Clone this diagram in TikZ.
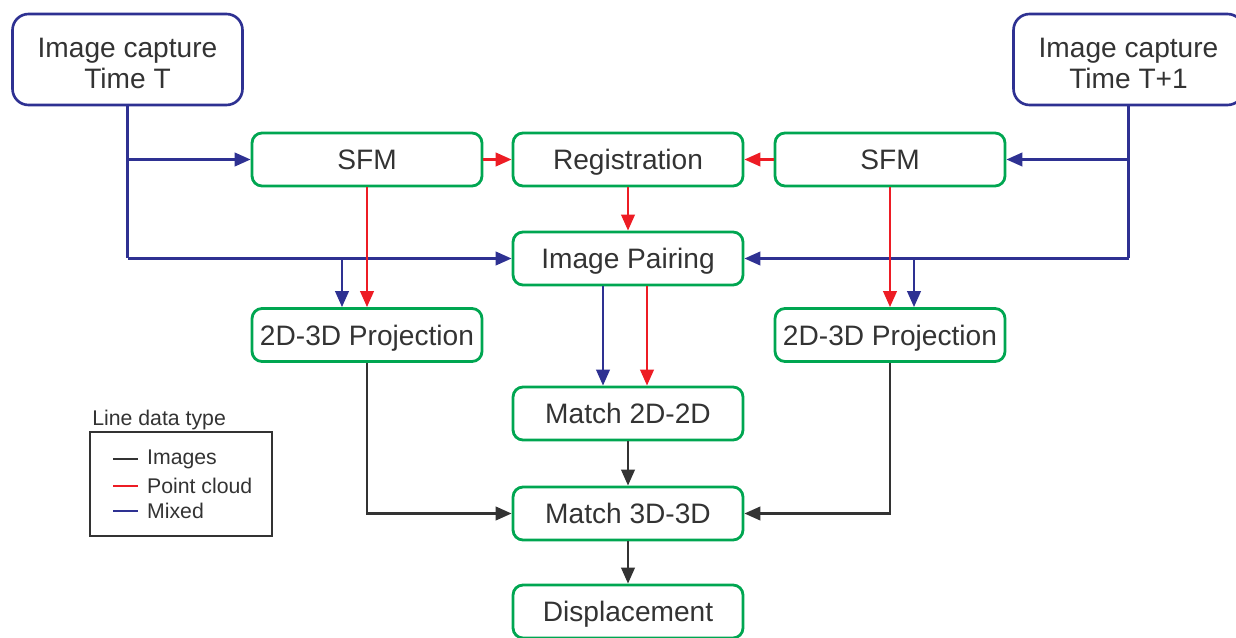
\documentclass[tikz,border=0pt]{standalone}
\usepackage{fontspec}
\setmainfont{Liberation Sans}
\usetikzlibrary{arrows.meta,calc}

\definecolor{boxgreen}{HTML}{00A651}
\definecolor{capblue}{HTML}{2E3192}
\definecolor{cloudred}{HTML}{ED1C24}
\definecolor{inkgray}{HTML}{333333}

\tikzset{
  stagebox/.style={draw=boxgreen, line width=1.6pt, rounded corners=0.2cm,
    minimum width=4.6cm, minimum height=1.06cm, inner sep=0pt,
    text height=11.5pt, text depth=0pt,
    text=inkgray, font=\fontsize{16}{18.1}\selectfont},
  capturebox/.style={draw=capblue, line width=1.5pt, rounded corners=0.32cm,
    minimum width=4.6cm, minimum height=1.82cm, inner sep=0pt, align=center,
    text height=33.4pt, text depth=0pt,
    text=inkgray, font=\fontsize{16}{18.1}\selectfont},
  tip/.style={-{Triangle[length=0.32cm,width=0.27cm]}},
  mixed/.style={draw=capblue, line width=1.4pt},
  cloud/.style={draw=cloudred, line width=1.4pt},
  imgs/.style={draw=inkgray, line width=1.4pt},
  legendtext/.style={text=inkgray, font=\fontsize{12.1}{13}\selectfont, inner sep=0pt, anchor=west}
}

\begin{document}
\begin{tikzpicture}[x=0.02cm,y=-0.02cm]
\useasboundingbox (0,0) rectangle (1236,638);

% capture nodes
\node[capturebox] (capT) at (127.5,59.5) {Image capture\\Time T};
\node[capturebox] (capT1) at (1128.5,59.5) {Image capture\\Time T+1};

% processing stages
\node[stagebox] (sfmL) at (367,159.5) {SFM};
\node[stagebox] (reg) at (628,159.5) {Registration};
\node[stagebox] (sfmR) at (890,159.5) {SFM};
\node[stagebox] (pair) at (628,258.5) {Image Pairing};
\node[stagebox] (projL) at (367,335) {2D-3D Projection};
\node[stagebox] (projR) at (890,335) {2D-3D Projection};
\node[stagebox] (m22) at (628,413.5) {Match 2D-2D};
\node[stagebox] (m33) at (628,513.5) {Match 3D-3D};
\node[stagebox] (disp) at (628,611.5) {Displacement};

% branch points on the mixed feeds
\coordinate (jL) at (capT.south |- pair.west);
\coordinate (jR) at (capT1.south |- pair.east);
\coordinate (bL) at ($(projL.north)+(-25,0)$);
\coordinate (bR) at ($(projR.north)+(24,0)$);

% mixed (blue) lines from the captures
\draw[mixed] (capT.south) -- (jL);
\draw[mixed,tip] (jL) -- (pair.west);
\draw[mixed,tip] (capT.south |- sfmL.west) -- (sfmL.west);
\draw[mixed,tip] (bL |- pair.west) -- (bL);

\draw[mixed] (capT1.south) -- (jR);
\draw[mixed,tip] (jR) -- (pair.east);
\draw[mixed,tip] (capT1.south |- sfmR.east) -- (sfmR.east);
\draw[mixed,tip] (bR |- pair.east) -- (bR);

% point cloud (red) lines
\draw[cloud,tip] (sfmL.east) -- (reg.west);
\draw[cloud,tip] (sfmR.west) -- (reg.east);
\draw[cloud,tip] (reg.south) -- (pair.north);
\draw[cloud,tip] (sfmL.south) -- (projL.north);
\draw[cloud,tip] (sfmR.south) -- (projR.north);

% image pairing into 2D-2D matching
\draw[mixed,tip] ($(pair.south)+(-25,0)$) -- ($(m22.north)+(-25,0)$);
\draw[cloud,tip] ($(pair.south)+(19,0)$) -- ($(m22.north)+(19,0)$);

% image (black) lines
\draw[imgs,tip] (m22.south) -- (m33.north);
\draw[imgs,tip] (m33.south) -- (disp.north);
\draw[imgs,tip] (projL.south) |- (m33.west);
\draw[imgs,tip] (projR.south) |- (m33.east);

% legend
\node[legendtext] (legtitle) at (92,420) {Line data type};
\node[draw=inkgray, line width=1.4pt, minimum width=3.64cm, minimum height=2.08cm,
  inner sep=0pt] (legbox) at (181,484) {};
\coordinate (l1) at (113,459);
\coordinate (l2) at (113,486);
\coordinate (l3) at (113,511);
\draw[imgs] (l1) -- ++(25,0) node[legendtext, right=4.5pt] {Images};
\draw[cloud] (l2) -- ++(25,0) node[legendtext, right=4.5pt] {Point cloud};
\draw[mixed] (l3) -- ++(25,0) node[legendtext, right=4.5pt] {Mixed};
\end{tikzpicture}
\end{document}
